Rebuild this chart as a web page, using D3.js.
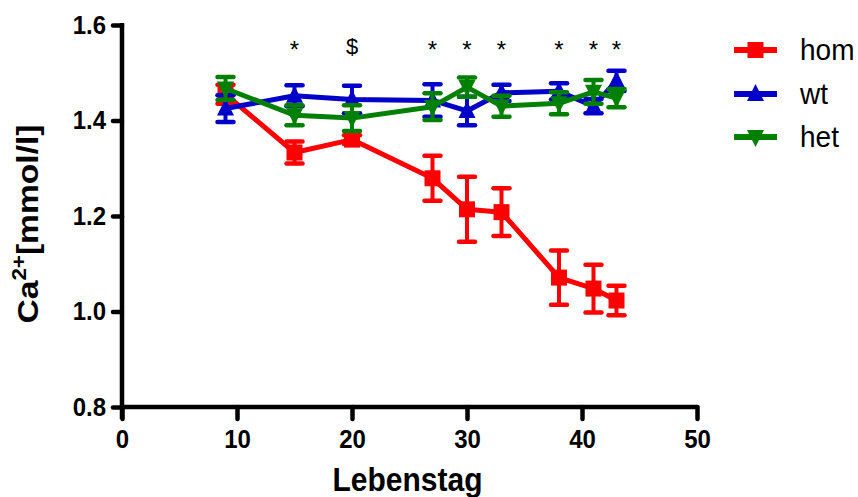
<!DOCTYPE html>
<html>
<head>
<meta charset="utf-8">
<script src="https://cdn.jsdelivr.net/npm/d3@7"></script>
<style>
  body { margin: 0; background: #fff; }
  text { font-family: "Liberation Sans", Arial, sans-serif; }
</style>
</head>
<body>
<div id="chart"></div>
<script>
// days of life
const days = [9, 15, 20, 27, 30, 33, 38, 41, 43];

const homMean = [1.455, 1.333, 1.360, 1.279, 1.214, 1.208, 1.071, 1.048, 1.023];
const homErr  = [0.020, 0.023, 0.009, 0.047, 0.068, 0.050, 0.057, 0.050, 0.031];
const wtMean  = [1.425, 1.452, 1.444, 1.442, 1.420, 1.458, 1.461, 1.430, 1.483];
const wtErr   = [0.028, 0.022, 0.029, 0.034, 0.030, 0.017, 0.017, 0.015, 0.021];
const hetMean = [1.467, 1.411, 1.405, 1.429, 1.470, 1.430, 1.436, 1.460, 1.447];
const hetErr  = [0.024, 0.021, 0.027, 0.028, 0.020, 0.022, 0.023, 0.025, 0.019];

const sigDays   = [15, 20, 27, 30, 33, 38, 41, 43];
const sigLabels = ["*", "$", "*", "*", "*", "*", "*", "*"];

const xTicks = [0, 10, 20, 30, 40, 50];
const yTicks = [0.8, 1.0, 1.2, 1.4, 1.6];

const series = [
  { name: "hom", color: "#ff0000", symbol: "square", mean: homMean, err: homErr },
  { name: "wt",  color: "#0000c8", symbol: "up",     mean: wtMean,  err: wtErr },
  { name: "het", color: "#008000", symbol: "down",   mean: hetMean, err: hetErr }
];

const width = 858, height = 497;
const svg = d3.select("#chart").append("svg")
  .attr("width", width).attr("height", height);

const x = d3.scaleLinear().domain([0, 50]).range([122, 697]);
const y = d3.scaleLinear().domain([0.8, 1.6]).range([407, 25]);

// axes
const xAxis = svg.append("g")
  .attr("transform", "translate(0,407)")
  .call(d3.axisBottom(x).tickValues(xTicks).tickSize(12).tickPadding(8).tickFormat(d3.format("d")));
const yAxis = svg.append("g")
  .attr("transform", "translate(122,0)")
  .call(d3.axisLeft(y).tickValues(yTicks).tickSize(9).tickPadding(7).tickFormat(d3.format(".1f")));

[xAxis, yAxis].forEach(g => {
  g.select(".domain").attr("stroke", "#000").attr("stroke-width", 4.5);
  g.selectAll(".tick line").attr("stroke", "#000").attr("stroke-width", 4.5)
    .attr("stroke-linecap", "round");
  g.selectAll(".tick text").attr("fill", "#000")
    .attr("transform", "scale(1,1.1)")
    .style("font-size", "24px").style("font-weight", "bold");
});
xAxis.select(".domain").attr("d", "M122,0H697");
yAxis.select(".domain").attr("d", "M0,23V419");

// axis titles (source picture is slightly stretched vertically)
svg.append("text")
  .attr("transform", `translate(${x(25) - 2},491) scale(1,1.12)`)
  .attr("text-anchor", "middle")
  .style("font-size", "30px").style("font-weight", "bold")
  .text("Lebenstag");

const yl = svg.append("text")
  .attr("transform", "translate(38,224) rotate(-90) scale(1.12,1)")
  .attr("text-anchor", "middle")
  .style("font-size", "30px").style("font-weight", "bold");
yl.append("tspan").text("Ca");
yl.append("tspan").attr("dy", -12).style("font-size", "20px").text("2+");
yl.append("tspan").attr("dy", 12).text("[mmol/l]");

function symbolPath(kind) {
  if (kind === "square") return "M-8,-8H8V8H-8Z";
  if (kind === "up") return "M0,-10L8.5,7H-8.5Z";
  return "M0,10L8.5,-7H-8.5Z";
}

series.forEach(s => {
  const g = svg.append("g");
  const pts = days.map((d, i) => ({ d, m: s.mean[i], e: s.err[i] }));

  // error bars
  pts.forEach(p => {
    const cx = x(p.d);
    g.append("line").attr("x1", cx).attr("x2", cx)
      .attr("y1", y(p.m - p.e)).attr("y2", y(p.m + p.e))
      .attr("stroke", s.color).attr("stroke-width", 4);
    [p.m - p.e, p.m + p.e].forEach(v => {
      g.append("line").attr("x1", cx - 8).attr("x2", cx + 8)
        .attr("y1", y(v)).attr("y2", y(v))
        .attr("stroke", s.color).attr("stroke-width", 4.5)
        .attr("stroke-linecap", "round");
    });
  });

  g.append("path").datum(pts)
    .attr("fill", "none").attr("stroke", s.color).attr("stroke-width", 5)
    .attr("stroke-linejoin", "round")
    .attr("d", d3.line().x(p => x(p.d)).y(p => y(p.m)));

  g.selectAll("path.sym").data(pts).enter().append("path")
    .attr("class", "sym")
    .attr("transform", p => `translate(${x(p.d)},${y(p.m)})`)
    .attr("d", symbolPath(s.symbol))
    .attr("fill", s.color);
});

// significance markers
svg.selectAll("text.sig").data(sigDays).enter().append("text")
  .attr("class", "sig")
  .attr("x", d => x(d)).attr("y", (d, i) => sigLabels[i] === "$" ? 54 : 58)
  .attr("text-anchor", "middle")
  .style("font-size", (d, i) => sigLabels[i] === "$" ? "22px" : "24px")
  .text((d, i) => sigLabels[i]);

// legend
const legend = svg.append("g");
series.forEach((s, i) => {
  const ly = [50, 94, 137][i];
  legend.append("line").attr("x1", 734).attr("x2", 777)
    .attr("y1", ly).attr("y2", ly)
    .attr("stroke", s.color).attr("stroke-width", 6);
  legend.append("path").attr("transform", `translate(755.5,${ly})`)
    .attr("d", symbolPath(s.symbol)).attr("fill", s.color);
  legend.append("text")
    .attr("transform", `translate(800,${ly + 10}) scale(1,1.08)`)
    .style("font-size", "28px").text(s.name);
});
</script>
</body>
</html>
